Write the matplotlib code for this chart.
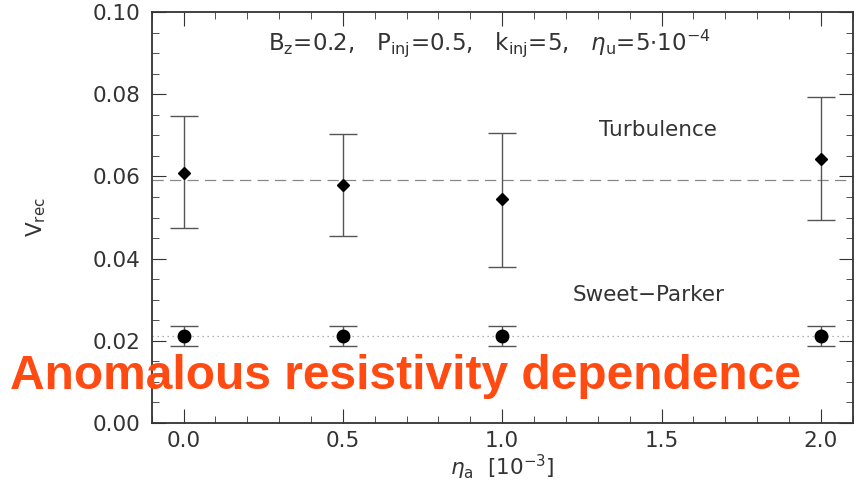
import matplotlib
matplotlib.use("Agg")
import matplotlib.pyplot as plt
from matplotlib.ticker import MultipleLocator

# data
eta_a = [0.0, 0.5, 1.0, 2.0]
turb = [0.0609, 0.0580, 0.0546, 0.0643]
turb_hi = [0.0747, 0.0704, 0.0706, 0.0794]
turb_lo = [0.0474, 0.0455, 0.0380, 0.0494]
turb_mean = 0.0592
sp = [0.0212, 0.0212, 0.0212, 0.0212]
sp_hi = [0.0236, 0.0236, 0.0236, 0.0236]
sp_lo = [0.0186, 0.0186, 0.0186, 0.0186]
sp_mean = 0.0212

ink = "#333333"
fig = plt.figure(figsize=(8.59, 4.87), dpi=100)
ax = fig.add_axes([0.1766, 0.132, 0.8161, 0.8427])

ax.axhline(turb_mean, color="#888888", lw=0.9, ls=(0, (9, 5)))
ax.axhline(sp_mean, color="#999999", lw=0.9, ls=(0, (1, 3)))

terr = [[t - l for t, l in zip(turb, turb_lo)], [h - t for t, h in zip(turb, turb_hi)]]
serr = [[s - l for s, l in zip(sp, sp_lo)], [h - s for s, h in zip(sp, sp_hi)]]
ax.errorbar(eta_a, turb, yerr=terr, fmt="D", color="black", ms=6,
            ecolor="#555555", elinewidth=1.0, capsize=10, capthick=1.0)
ax.errorbar(eta_a, sp, yerr=serr, fmt="o", color="black", ms=9,
            ecolor="#555555", elinewidth=1.0, capsize=10, capthick=1.0)

ax.set_xlim(-0.1, 2.1)
ax.set_ylim(0, 0.10)
ax.xaxis.set_major_locator(MultipleLocator(0.5))
ax.xaxis.set_minor_locator(MultipleLocator(0.1))
ax.yaxis.set_major_locator(MultipleLocator(0.02))
ax.yaxis.set_minor_locator(MultipleLocator(0.005))
ax.xaxis.set_major_formatter(lambda v, p: f"{v:.1f}")
ax.yaxis.set_major_formatter(lambda v, p: f"{v:.2f}")
ax.tick_params(which="both", direction="in", top=True, right=True, color=ink,
               labelsize=15.5, labelcolor=ink)
ax.tick_params(axis="x", pad=6)
ax.tick_params(axis="y", pad=8)
ax.tick_params(which="major", length=10)
ax.tick_params(which="minor", length=5)
for s in ax.spines.values():
    s.set_color(ink)
    s.set_linewidth(1.3)

ax.set_xlabel(r"$\eta_{\rm a}$  [10$^{-3}$]", fontsize=15.5, color=ink, labelpad=1)
ax.set_ylabel(r"V$_{\rm rec}$", fontsize=15.5, color=ink, labelpad=32)

ax.text(0.96, 0.0925,
        r"B$_{\rm z}$=0.2,   P$_{\rm inj}$=0.5,   k$_{\rm inj}$=5,   $\eta_{\rm u}$=5$\cdot$10$^{-4}$",
        ha="center", va="center", fontsize=16.5, color=ink)
ax.text(1.49, 0.0714, "Turbulence", ha="center", va="center", fontsize=15.5, color=ink)
ax.text(1.46, 0.0311, "Sweet\u2212Parker", ha="center", va="center", fontsize=15.5, color=ink)

fig.text(0.012, 0.226, "Anomalous resistivity dependence", fontsize=34.5,
         fontweight="bold", family="Liberation Sans", color="#ff4a12",
         ha="left", va="center")

fig.savefig("out.png", dpi=100)
